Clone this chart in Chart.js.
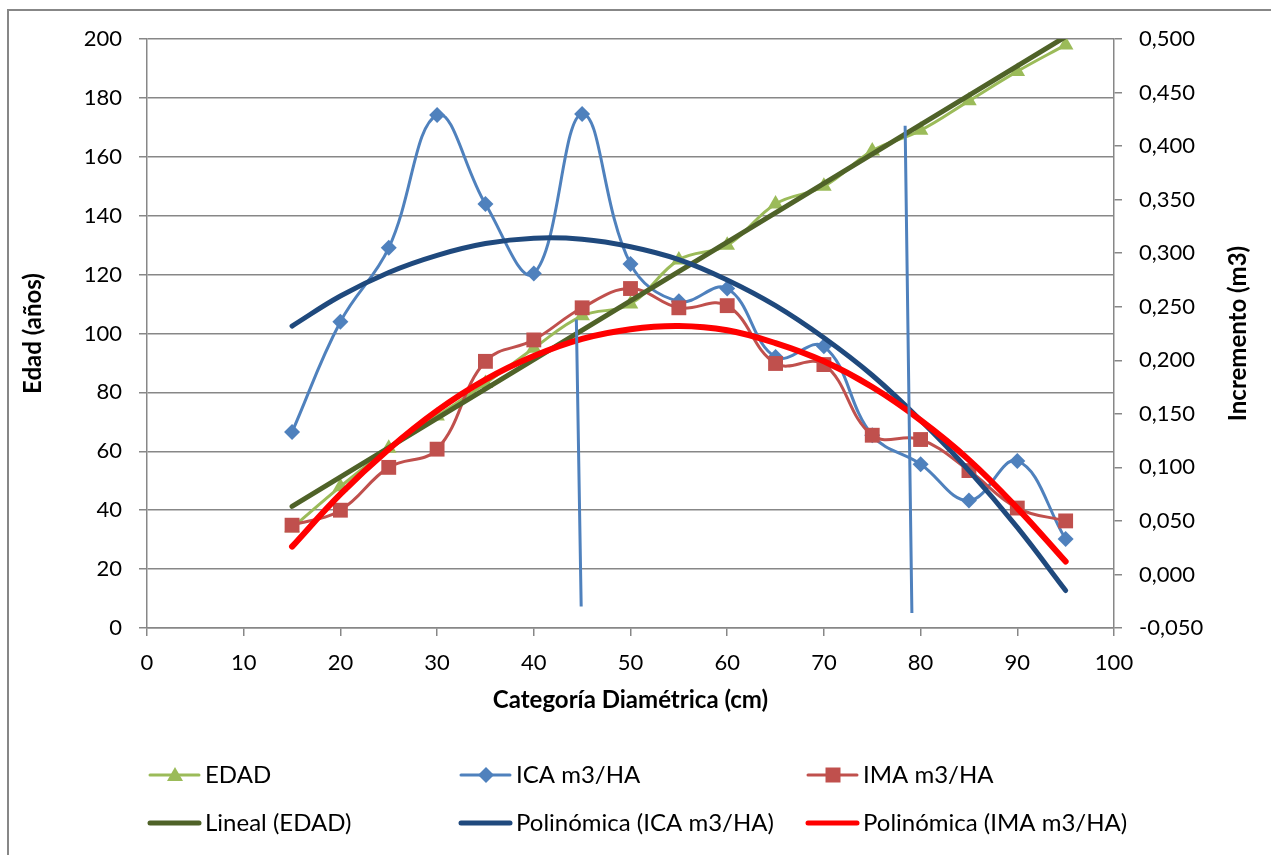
<!DOCTYPE html>
<html>
<head>
<meta charset="utf-8">
<script src="https://cdn.jsdelivr.net/npm/chart.js@4.4.0/dist/chart.umd.min.js"></script>
<style>
  html, body { margin: 0; padding: 0; background: #fff; }
  #wrap { width: 1271px; height: 855px; }
</style>
</head>
<body>
<div id="wrap"><canvas id="myChart" width="1271" height="855"></canvas></div>
<script>
// categorías diamétricas (cm)
const diametro = [15, 20, 25, 30, 35, 40, 45, 50, 55, 60, 65, 70, 75, 80, 85, 90, 95];
// eje izquierdo: edad (años)
const edad = [34, 48, 61, 72, 83, 95, 106, 110, 125, 130, 144, 150, 162, 169, 179, 189, 198];
// eje derecho: incremento (m3)
const ica = [0.133, 0.236, 0.305, 0.429, 0.346, 0.281, 0.430, 0.290, 0.255, 0.267, 0.203, 0.213, 0.130, 0.103, 0.069, 0.106, 0.033];
const ima = [0.046, 0.060, 0.100, 0.117, 0.199, 0.219, 0.249, 0.267, 0.249, 0.251, 0.197, 0.196, 0.130, 0.126, 0.097, 0.062, 0.050];
// líneas de tendencia
const linealX = [15, 95];
const linealEdad = [41.3, 200.8];
const polyIca = [0.232, 0.260, 0.282, 0.298, 0.309, 0.314, 0.313, 0.306, 0.294, 0.275, 0.251, 0.221, 0.186, 0.144, 0.097, 0.044, -0.015];
const polyIma = [0.026, 0.075, 0.117, 0.153, 0.182, 0.204, 0.220, 0.229, 0.232, 0.228, 0.216, 0.199, 0.175, 0.144, 0.107, 0.062, 0.012];
// trazos verticales sueltos de la serie ICA
const sueltoX = [44.4, 44.9, null, 78.4, 79.1];
const sueltoY = [0.238, -0.030, null, 0.419, -0.036];
// marcas de los ejes
const xTicks = [0, 10, 20, 30, 40, 50, 60, 70, 80, 90, 100];
const edadTicks = [0, 20, 40, 60, 80, 100, 120, 140, 160, 180, 200];
const incTicks = [-0.05, 0, 0.05, 0.1, 0.15, 0.2, 0.25, 0.3, 0.35, 0.4, 0.45, 0.5];

const FONT = "Lato";
const GRAY = "#878787";

const pairs = (xs, ys) => xs.map((x, i) => ({ x: x, y: ys[i] }));
const setTicks = (arr) => (scale) => { scale.ticks = arr.map((v) => ({ value: v })); };

const legendItems = [
  { text: "EDAD", color: "#9BBB59", width: 3, marker: "triangle", x: 150, y: 775 },
  { text: "ICA m3/HA", color: "#4F81BD", width: 3, marker: "diamond", x: 461, y: 775 },
  { text: "IMA m3/HA", color: "#C0504D", width: 3, marker: "square", x: 808, y: 775 },
  { text: "Lineal (EDAD)", color: "#4F6228", width: 5, marker: null, x: 150, y: 823 },
  { text: "Polinómica (ICA m3/HA)", color: "#1F497D", width: 5, marker: null, x: 461, y: 823 },
  { text: "Polinómica (IMA m3/HA)", color: "#FF0000", width: 5, marker: null, x: 808, y: 823 },
];

function drawMarker(ctx, kind, x, y, color) {
  ctx.fillStyle = color;
  ctx.beginPath();
  if (kind === "triangle") {
    ctx.moveTo(x, y - 8);
    ctx.lineTo(x + 8, y + 6);
    ctx.lineTo(x - 8, y + 6);
  } else if (kind === "diamond") {
    ctx.moveTo(x, y - 8);
    ctx.lineTo(x + 8, y);
    ctx.lineTo(x, y + 8);
    ctx.lineTo(x - 8, y);
  } else {
    ctx.rect(x - 7.5, y - 7.5, 15, 15);
  }
  ctx.closePath();
  ctx.fill();
}

const framePlugin = {
  id: "frame",
  beforeDraw(chart) {
    const ctx = chart.ctx;
    ctx.save();
    ctx.fillStyle = "#fff";
    ctx.fillRect(0, 0, chart.width, chart.height);
    ctx.strokeStyle = GRAY;
    ctx.lineWidth = 2;
    ctx.strokeRect(8, 10, 1400, 1000);
    ctx.restore();
  },
  afterDraw(chart) {
    const ctx = chart.ctx;
    const area = chart.chartArea;
    ctx.save();
    // título del eje secundario
    ctx.translate(1238, (area.top + area.bottom) / 2);
    ctx.rotate(-Math.PI / 2);
    ctx.fillStyle = "#000";
    ctx.font = "bold 24px " + FONT;
    ctx.textAlign = "center";
    ctx.textBaseline = "middle";
    ctx.fillText("Incremento (m3)", 0, 0);
    ctx.restore();

    // leyenda
    ctx.save();
    ctx.font = "24px " + FONT;
    ctx.textBaseline = "middle";
    ctx.textAlign = "left";
    legendItems.forEach((it) => {
      ctx.strokeStyle = it.color;
      ctx.lineWidth = it.width;
      ctx.lineCap = "round";
      ctx.beginPath();
      ctx.moveTo(it.x, it.y);
      ctx.lineTo(it.x + 49, it.y);
      ctx.stroke();
      if (it.marker) drawMarker(ctx, it.marker, it.x + 25, it.y, it.color);
      ctx.fillStyle = "#000";
      ctx.fillText(it.text, it.x + 55, it.y);
    });
    ctx.restore();
  },
};

const ctx = document.querySelector("#myChart").getContext("2d");

const myChart = new Chart(ctx, {
  type: "line",
  data: {
    datasets: [
      {
        label: "suelto",
        data: pairs(sueltoX, sueltoY),
        yAxisID: "y1",
        borderColor: "#4F81BD",
        borderWidth: 3,
        pointRadius: 0,
        spanGaps: false,
        tension: 0,
        order: 0,
      },
      {
        label: "Polinómica (IMA m3/HA)",
        data: pairs(diametro, polyIma),
        yAxisID: "y1",
        borderColor: "#FF0000",
        borderWidth: 6,
        borderCapStyle: "round",
        pointRadius: 0,
        tension: 0.4,
        order: 1,
      },
      {
        label: "Polinómica (ICA m3/HA)",
        data: pairs(diametro, polyIca),
        yAxisID: "y1",
        borderColor: "#1F497D",
        borderWidth: 5,
        borderCapStyle: "round",
        pointRadius: 0,
        tension: 0.4,
        order: 2,
      },
      {
        label: "Lineal (EDAD)",
        data: pairs(linealX, linealEdad),
        yAxisID: "y",
        borderColor: "#4F6228",
        borderWidth: 5,
        borderCapStyle: "round",
        pointRadius: 0,
        tension: 0,
        order: 3,
      },
      {
        label: "IMA m3/HA",
        data: pairs(diametro, ima),
        yAxisID: "y1",
        borderColor: "#C0504D",
        backgroundColor: "#C0504D",
        borderWidth: 3,
        pointStyle: "rect",
        pointRadius: 10.5,
        pointBorderWidth: 0,
        tension: 0.4,
        order: 4,
      },
      {
        label: "ICA m3/HA",
        data: pairs(diametro, ica),
        yAxisID: "y1",
        borderColor: "#4F81BD",
        backgroundColor: "#4F81BD",
        borderWidth: 3,
        pointStyle: "rectRot",
        pointRadius: 8,
        pointBorderWidth: 0,
        tension: 0.4,
        order: 5,
      },
      {
        label: "EDAD",
        data: pairs(diametro, edad),
        yAxisID: "y",
        borderColor: "#9BBB59",
        backgroundColor: "#9BBB59",
        borderWidth: 3,
        pointStyle: "triangle",
        pointRadius: 9,
        pointBorderWidth: 0,
        tension: 0.4,
        order: 6,
      },
    ],
  },
  options: {
    responsive: false,
    animation: false,
    layout: { padding: { top: 39, left: 19, right: 21, bottom: 140 } },
    plugins: { legend: { display: false }, tooltip: { enabled: false } },
    scales: {
      x: {
        type: "linear",
        min: 0,
        max: 100,
        afterBuildTicks: setTicks(xTicks),
        afterFit: (s) => { s.height = 87; },
        ticks: { color: "#000", font: { family: FONT, size: 22 }, padding: 14 },
        grid: { drawOnChartArea: false, color: GRAY, tickLength: 8, lineWidth: 1.5 },
        border: { color: GRAY, width: 1.5 },
        title: {
          display: true,
          text: "Categoría Diamétrica (cm)",
          color: "#000",
          font: { family: FONT, size: 24, weight: "bold" },
          padding: 0,
        },
      },
      y: {
        position: "left",
        min: 0,
        max: 200,
        afterBuildTicks: setTicks(edadTicks),
        afterFit: (s) => { s.width = 128; },
        ticks: { color: "#000", font: { family: FONT, size: 22 }, padding: 17 },
        grid: { color: GRAY, tickLength: 8, lineWidth: 1.5 },
        border: { color: GRAY, width: 1.5 },
        title: {
          display: true,
          text: "Edad (años)",
          color: "#000",
          font: { family: FONT, size: 24, weight: "bold" },
          padding: 0,
        },
      },
      y1: {
        position: "right",
        min: -0.05,
        max: 0.5,
        afterBuildTicks: setTicks(incTicks),
        afterFit: (s) => { s.width = 136; },
        ticks: {
          color: "#000",
          font: { family: FONT, size: 22 },
          padding: 17,
          callback: (v) => (Math.abs(v) < 1e-9 ? 0 : v).toFixed(3).replace(".", ","),
        },
        grid: { drawOnChartArea: false, color: GRAY, tickLength: 8, lineWidth: 1.5 },
        border: { color: GRAY, width: 1.5 },
      },
    },
  },
  plugins: [framePlugin],
});
</script>
</body>
</html>
